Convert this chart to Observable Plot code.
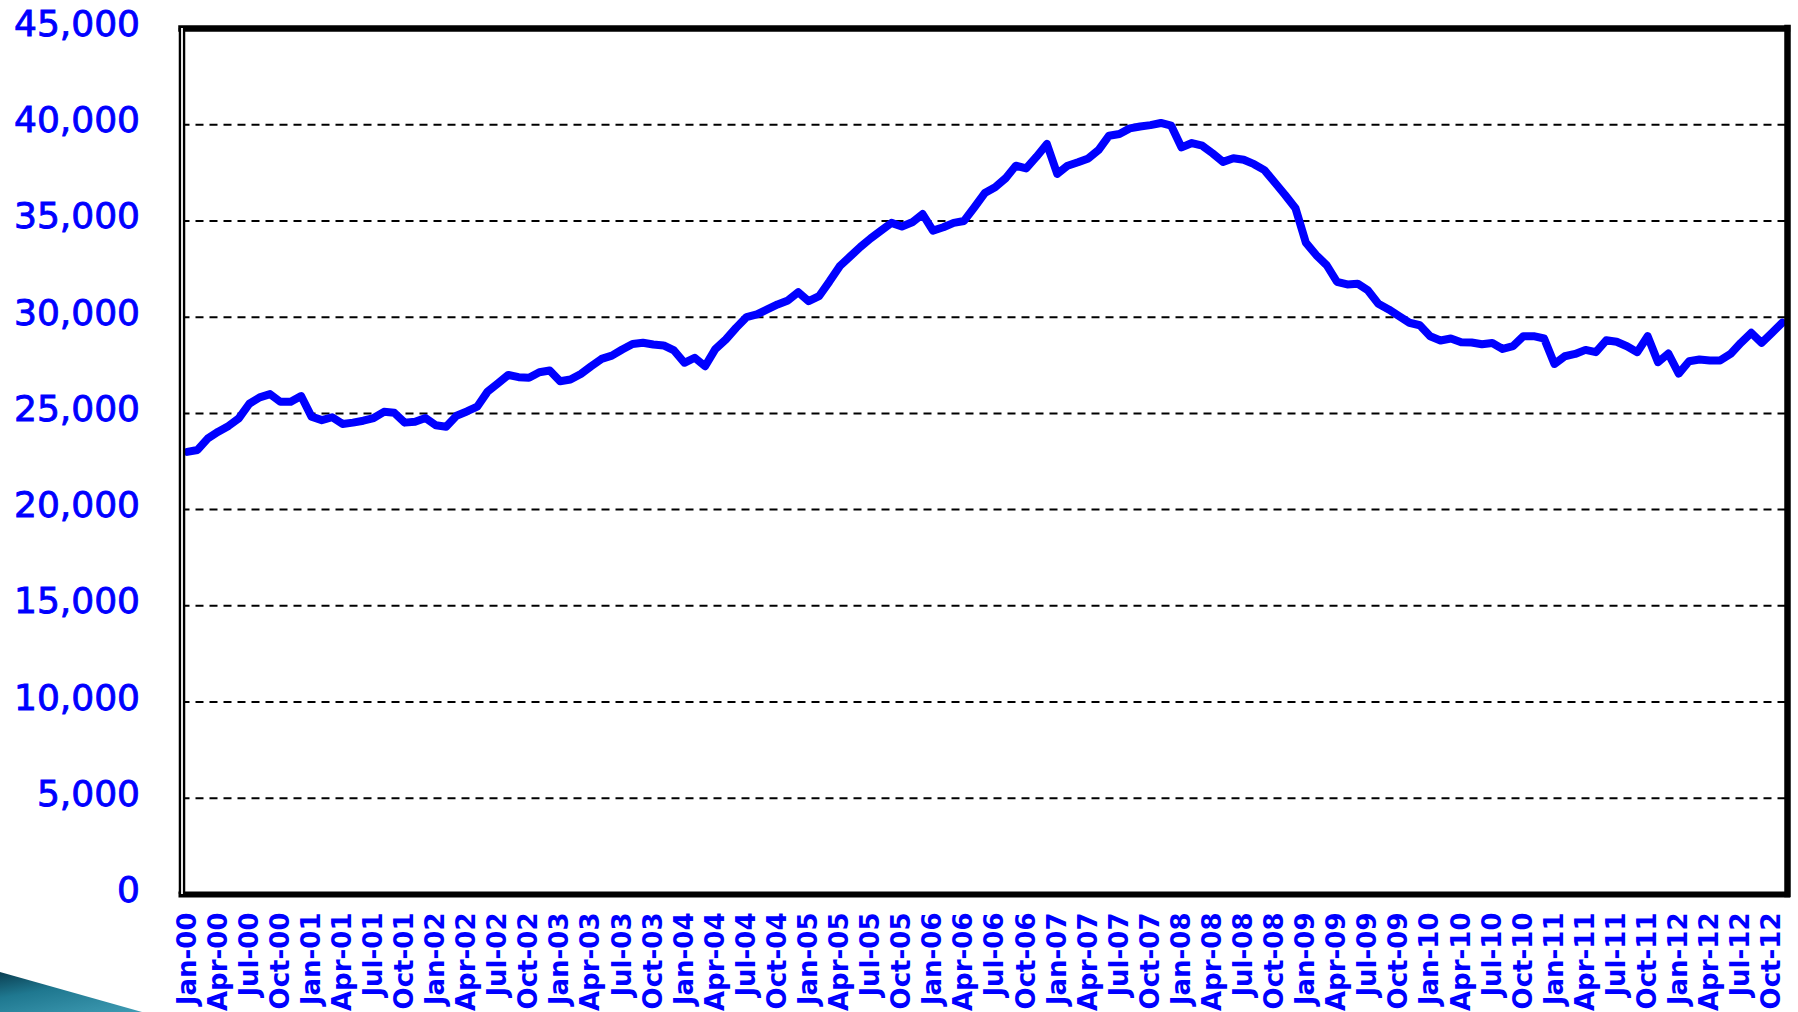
<!DOCTYPE html>
<html>
<head>
<meta charset="utf-8">
<script src="https://cdn.jsdelivr.net/npm/d3@7"></script>
<script src="https://cdn.jsdelivr.net/npm/@observablehq/plot@0.6"></script>
<style>
  html, body { margin: 0; padding: 0; background: #ffffff; }
  #wrap { position: relative; width: 1798px; height: 1012px; overflow: hidden; }
  #swoosh {
    position: absolute; left: 0; top: 972px; width: 142px; height: 40px;
    clip-path: polygon(0 0, 100% 100%, 0 100%);
    background: linear-gradient(170deg, #0b3f52 0%, #1f7890 40%, #3f9bb3 100%);
  }
  svg .yax text { paint-order: stroke; stroke: #0000ff; stroke-width: 0.9px; }
</style>
</head>
<body>
<div id="wrap"><div id="swoosh"></div></div>
<script>
// Monthly values, Jan-00 .. Nov-12
const values = [
  23000, 23100, 23700, 24050, 24350, 24750, 25500, 25830, 26000, 25600, 25600, 25900,
  24830, 24650, 24800, 24450, 24520, 24620, 24760, 25080, 25030, 24520, 24570, 24760,
  24380, 24310, 24880, 25100, 25350, 26130, 26560, 27000, 26880, 26850, 27140, 27230,
  26670, 26760, 27050, 27450, 27830, 28000, 28320, 28610, 28670, 28580, 28530, 28270,
  27630, 27890, 27450, 28350, 28840, 29450, 30000, 30140, 30400, 30660, 30870, 31300,
  30830, 31090, 31850, 32650, 33150, 33650, 34100, 34500, 34900, 34710, 34930, 35360,
  34500, 34670, 34900, 35000, 35710, 36450, 36750, 37210, 37870, 37730, 38340, 39000,
  37440, 37870, 38050, 38250, 38690, 39430, 39520, 39810, 39910, 39980, 40090, 39950,
  38820, 39050, 38910, 38510, 38070, 38260, 38180, 37950, 37640, 37000, 36350, 35660,
  33870, 33230, 32710, 31840, 31700, 31740, 31390, 30700, 30400, 30050, 29710, 29580,
  29010, 28790, 28890, 28700, 28680, 28590, 28660, 28350, 28490, 29010, 29010, 28890,
  27570, 27970, 28090, 28300, 28180, 28800, 28720, 28490, 28180, 29010, 27660, 28110,
  27070, 27710, 27800, 27750, 27750, 28090, 28670, 29190, 28670, 29190, 29710
];

const monthNames = ["Jan","Feb","Mar","Apr","May","Jun","Jul","Aug","Sep","Oct","Nov","Dec"];
const years = ["00","01","02","03","04","05","06","07","08","09","10","11","12"];
const months = years.flatMap(y => monthNames.map(m => m + "-" + y)).slice(0, values.length);

const tickLabels = [
  "Jan-00","Apr-00","Jul-00","Oct-00","Jan-01","Apr-01","Jul-01","Oct-01",
  "Jan-02","Apr-02","Jul-02","Oct-02","Jan-03","Apr-03","Jul-03","Oct-03",
  "Jan-04","Apr-04","Jul-04","Oct-04","Jan-05","Apr-05","Jul-05","Oct-05",
  "Jan-06","Apr-06","Jul-06","Oct-06","Jan-07","Apr-07","Jul-07","Oct-07",
  "Jan-08","Apr-08","Jul-08","Oct-08","Jan-09","Apr-09","Jul-09","Oct-09",
  "Jan-10","Apr-10","Jul-10","Oct-10","Jan-11","Apr-11","Jul-11","Oct-11",
  "Jan-12","Apr-12","Jul-12","Oct-12"
];
const yTicks = [0, 5000, 10000, 15000, 20000, 25000, 30000, 35000, 40000, 45000];
const gridValues = [5000, 10000, 15000, 20000, 25000, 30000, 35000, 40000];

const data = values.map((v, i) => ({i, month: months[i], v}));
const tickIdx = tickLabels.map(l => months.indexOf(l));
const xMin = -0.5, xMax = values.length - 0.5;

const chart = Plot.plot({
  width: 1798,
  height: 1012,
  marginLeft: 181.5,
  marginRight: 11,
  marginTop: 28,
  marginBottom: 118,
  x: {domain: [xMin, xMax], label: null},
  y: {domain: [0, 45000], label: null},
  style: {fontFamily: "DejaVu Sans", background: "transparent", overflow: "visible"},
  marks: [
    Plot.ruleY(gridValues, {stroke: "black", strokeWidth: 2, strokeDasharray: "8,6"}),
    Plot.line(data, {x: "i", y: "v", stroke: "#0000ff", strokeWidth: 8, strokeLinejoin: "round", strokeLinecap: "round"}),
    Plot.ruleY([45000], {stroke: "black", strokeWidth: 6.5, strokeLinecap: "square"}),
    Plot.ruleY([0], {stroke: "black", strokeWidth: 6, strokeLinecap: "square"}),
    Plot.ruleX([xMax], {stroke: "black", strokeWidth: 6.5, strokeLinecap: "square"}),
    Plot.ruleX([xMin], {stroke: "black", strokeWidth: 6.5}),
    Plot.ruleX([xMin], {stroke: "white", strokeWidth: 1.8}),
    Plot.axisY({
      ticks: yTicks, tickFormat: d3.format(","), tickSize: 0, tickPadding: 42,
      fontSize: 36, fill: "#0000ff", dy: -4, label: null, className: "yax"
    }),
    Plot.axisX({
      ticks: tickIdx, tickFormat: i => months[i], tickSize: 0, tickPadding: 18,
      tickRotate: -90, fontSize: 26, fontWeight: "bold", fill: "#0000ff", label: null
    })
  ]
});

document.getElementById("wrap").appendChild(chart);
chart.style.position = "absolute";
chart.style.left = "0";
chart.style.top = "0";
</script>
</body>
</html>
